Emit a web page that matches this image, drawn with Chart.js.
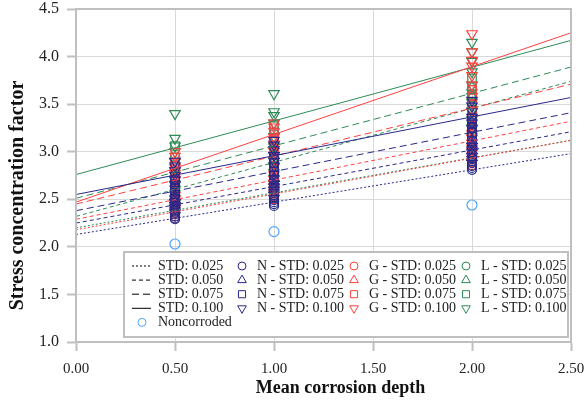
<!DOCTYPE html>
<html>
  <head>
    <script src="https://cdn.jsdelivr.net/npm/chart.js"></script>
    <style>
      body { margin: 0; padding: 0; background: #ffffff; }
      canvas { display: block; }
    </style>
  </head>
  <body>
    <canvas id="myChart" width="586" height="406"></canvas>

    <script>
      // depths where the specimens were measured
      const depths = [0.5, 1.0, 2.0];
      const stdLabels = ['0.025', '0.050', '0.075', '0.100'];

      // scatter values, one list per depth
      const n025 = [[2.29, 2.30, 2.32, 2.34, 2.36, 2.38], [2.43, 2.45, 2.47, 2.49, 2.51, 2.54], [2.81, 2.83, 2.85, 2.88, 2.90, 2.93]];
      const n050 = [[2.39, 2.42, 2.44, 2.47, 2.50, 2.53], [2.57, 2.60, 2.63, 2.66, 2.69, 2.72], [2.94, 2.98, 3.01, 3.05, 3.08, 3.12]];
      const n075 = [[2.51, 2.55, 2.59, 2.62, 2.66, 2.70], [2.71, 2.75, 2.79, 2.84, 2.88, 2.93], [3.11, 3.16, 3.20, 3.25, 3.30, 3.35]];
      const n100 = [[2.65, 2.70, 2.75, 2.80, 2.85, 2.90], [2.85, 2.90, 2.96, 3.02, 3.07, 3.12], [3.24, 3.30, 3.36, 3.42, 3.48, 3.54]];

      const g025 = [[2.32, 2.35, 2.37, 2.39, 2.41, 2.44], [2.50, 2.53, 2.56, 2.58, 2.61, 2.64], [2.86, 2.89, 2.92, 2.95, 2.98, 3.01]];
      const g050 = [[2.42, 2.46, 2.49, 2.53, 2.56, 2.60], [2.61, 2.65, 2.69, 2.73, 2.77, 2.82], [3.01, 3.06, 3.10, 3.15, 3.20, 3.25]];
      const g075 = [[2.59, 2.64, 2.69, 2.74, 2.79, 2.85], [2.82, 2.88, 2.94, 3.00, 3.06, 3.12], [3.28, 3.36, 3.43, 3.50, 3.58, 3.65]];
      const g100 = [[2.71, 2.77, 2.83, 2.89, 2.95, 3.00], [3.00, 3.08, 3.15, 3.21, 3.26, 3.30], [3.70, 3.80, 3.90, 3.96, 4.05, 4.24]];

      const l025 = [[2.32, 2.35, 2.38, 2.40, 2.43, 2.46], [2.50, 2.54, 2.57, 2.60, 2.63, 2.66], [2.85, 2.89, 2.93, 2.97, 3.00, 3.04]];
      const l050 = [[2.47, 2.52, 2.57, 2.62, 2.67, 2.72], [2.72, 2.78, 2.84, 2.90, 2.96, 3.02], [3.22, 3.31, 3.40, 3.49, 3.58, 3.68]];
      const l075 = [[2.65, 2.72, 2.79, 2.86, 2.94, 3.06], [2.88, 2.96, 3.04, 3.12, 3.20, 3.27], [3.36, 3.44, 3.52, 3.60, 3.68, 3.77]];
      const l100 = [[2.80, 2.90, 3.00, 3.06, 3.14, 3.40], [3.05, 3.16, 3.30, 3.38, 3.42, 3.61], [3.58, 3.70, 3.84, 3.95, 4.05, 4.15]];

      const noncorroded = [2.03, 2.16, 2.44];

      // fitted lines: value at depth 0 and at depth 2.5
      const lineX = [0, 2.5];
      const nLineStart = [2.13, 2.25, 2.38, 2.55];
      const nLineEnd = [2.98, 3.21, 3.41, 3.57];
      const gLineStart = [2.18, 2.29, 2.45, 2.47];
      const gLineEnd = [3.12, 3.32, 3.71, 4.25];
      const lLineStart = [2.20, 2.32, 2.51, 2.76];
      const lLineEnd = [3.12, 3.74, 3.89, 4.17];

      const blue = '#28288a';
      const red = '#ff4040';
      const green = '#2e8b57';
      const lightBlue = '#4da6ff';
      const dashes = [[2, 2], [4, 3], [7, 4], []];
      const markers = [
        { style: 'circle', rot: 0, r: 4.5 },
        { style: 'triangle', rot: 0, r: 6 },
        { style: 'rect', rot: 0, r: 6 },
        { style: 'triangle', rot: 180, r: 6 }
      ];
      const serif = 'Liberation Serif';

      function toPoints(series) {
        return depths.flatMap((d, i) => series[i].map(v => ({ x: d, y: v })));
      }

      const datasets = [];
      const groups = [
        { name: 'N', color: blue, series: [n025, n050, n075, n100], start: nLineStart, end: nLineEnd },
        { name: 'G', color: red, series: [g025, g050, g075, g100], start: gLineStart, end: gLineEnd },
        { name: 'L', color: green, series: [l025, l050, l075, l100], start: lLineStart, end: lLineEnd }
      ];

      groups.forEach(g => {
        for (let k = 0; k < 4; k++) {
          datasets.push({
            type: 'line',
            label: g.name + ' fit ' + stdLabels[k],
            data: lineX.map((x, j) => ({ x: x, y: j === 0 ? g.start[k] : g.end[k] })),
            borderColor: g.color,
            borderWidth: 1,
            borderDash: dashes[k],
            pointRadius: 0,
            fill: false,
            order: 0
          });
        }
      });

      groups.forEach(g => {
        for (let k = 0; k < 4; k++) {
          datasets.push({
            label: g.name + ' - STD: ' + stdLabels[k],
            data: toPoints(g.series[k]),
            pointStyle: markers[k].style,
            rotation: markers[k].rot,
            pointRadius: markers[k].r,
            borderColor: g.color,
            backgroundColor: 'rgba(0,0,0,0)',
            pointBorderWidth: 1.2,
            order: 1
          });
        }
      });

      datasets.push({
        label: 'Noncorroded',
        data: depths.map((d, i) => ({ x: d, y: noncorroded[i] })),
        pointStyle: 'circle',
        pointRadius: 5,
        borderColor: lightBlue,
        backgroundColor: 'rgba(0,0,0,0)',
        pointBorderWidth: 1.2,
        order: 1
      });

      function marker(ctx, style, rot, r, x, y, color) {
        ctx.save();
        ctx.strokeStyle = color;
        ctx.lineWidth = 1;
        ctx.setLineDash([]);
        ctx.beginPath();
        if (style === 'circle') {
          ctx.arc(x, y, r, 0, Math.PI * 2);
        } else if (style === 'rect') {
          const s = r * Math.SQRT1_2;
          ctx.rect(x - s, y - s, 2 * s, 2 * s);
        } else {
          let a = rot * Math.PI / 180;
          for (let i = 0; i < 3; i++) {
            const px = x + Math.sin(a) * r;
            const py = y - Math.cos(a) * r;
            if (i === 0) ctx.moveTo(px, py); else ctx.lineTo(px, py);
            a += 2 * Math.PI / 3;
          }
          ctx.closePath();
        }
        ctx.stroke();
        ctx.restore();
      }

      const frameAndLegend = {
        id: 'frameAndLegend',
        afterDraw(chart) {
          const ctx = chart.ctx;
          const ca = chart.chartArea;
          ctx.save();
          // plot frame
          ctx.strokeStyle = '#bfbfbf';
          ctx.lineWidth = 2;
          ctx.strokeRect(ca.left, ca.top, ca.right - ca.left, ca.bottom - ca.top);

          // axis titles
          ctx.fillStyle = '#111111';
          ctx.font = 'bold 18px "' + serif + '"';
          ctx.textAlign = 'center';
          ctx.textBaseline = 'alphabetic';
          ctx.fillText('Mean corrosion depth', (ca.left + ca.right) / 2 + 17, 393);
          ctx.save();
          ctx.translate(23, (ca.top + ca.bottom) / 2 + 20);
          ctx.rotate(-Math.PI / 2);
          ctx.font = 'bold 20px "' + serif + '"';
          ctx.fillText('Stress concentration factor', 0, 0);
          ctx.restore();

          // legend box
          const bx = ca.left + 48, by = ca.bottom - 90;
          const bw = ca.right - 3 - bx, bh = 85;
          ctx.fillStyle = '#ffffff';
          ctx.fillRect(bx, by, bw, bh);
          ctx.strokeStyle = '#bfbfbf';
          ctx.lineWidth = 2;
          ctx.strokeRect(bx, by, bw, bh);

          ctx.font = '14px "' + serif + '"';
          ctx.textAlign = 'left';
          ctx.textBaseline = 'middle';
          const rowY = k => by + 14 + k * 14.1;
          const cols = [118, 230, 342];
          for (let k = 0; k < 4; k++) {
            const y = rowY(k);
            ctx.strokeStyle = '#000000';
            ctx.lineWidth = 1;
            ctx.setLineDash(dashes[k]);
            ctx.beginPath();
            ctx.moveTo(bx + 8, y);
            ctx.lineTo(bx + 27, y);
            ctx.stroke();
            ctx.setLineDash([]);
            ctx.fillStyle = '#222222';
            ctx.fillText('STD: ' + stdLabels[k], bx + 34, y);
            groups.forEach((g, gi) => {
              const m = markers[k];
              marker(ctx, m.style, m.rot, m.style === 'circle' ? 4 : 5, bx + cols[gi], y, g.color);
              ctx.fillStyle = '#222222';
              ctx.fillText(g.name + ' - STD: ' + stdLabels[k], bx + cols[gi] + 15, y);
            });
          }
          marker(ctx, 'circle', 0, 4, bx + 18, rowY(4), lightBlue);
          ctx.fillStyle = '#222222';
          ctx.fillText('Noncorroded', bx + 34, rowY(4));
          ctx.restore();
        }
      };

      const ctx = document.getElementById('myChart').getContext('2d');
      new Chart(ctx, {
        type: 'scatter',
        data: { datasets: datasets },
        options: {
          responsive: false,
          animation: false,
          layout: { padding: { top: 9, right: 15, left: 0, bottom: 0 } },
          plugins: {
            legend: { display: false },
            tooltip: { enabled: false }
          },
          scales: {
            x: {
              type: 'linear',
              min: 0,
              max: 2.5,
              ticks: {
                stepSize: 0.5,
                callback: v => v.toFixed(2),
                font: { family: serif, size: 15 },
                color: '#222222',
                padding: 9
              },
              grid: { color: '#d9d9d9', tickLength: 9, tickColor: '#bfbfbf', tickWidth: 2 },
              border: { color: '#bfbfbf', width: 2 },
              afterFit: s => { s.height = 64; s.paddingLeft = 0; s.paddingRight = 0; }
            },
            y: {
              min: 1,
              max: 4.5,
              ticks: {
                stepSize: 0.5,
                callback: v => v.toFixed(1),
                font: { family: serif, size: 16 },
                color: '#222222',
                padding: 8
              },
              grid: { color: '#d9d9d9', tickLength: 9, tickColor: '#bfbfbf', tickWidth: 2 },
              border: { color: '#bfbfbf', width: 2 },
              afterFit: s => { s.width = 76; s.paddingTop = 0; s.paddingBottom = 0; }
            }
          }
        },
        plugins: [frameAndLegend]
      });
    </script>
  </body>
</html>
